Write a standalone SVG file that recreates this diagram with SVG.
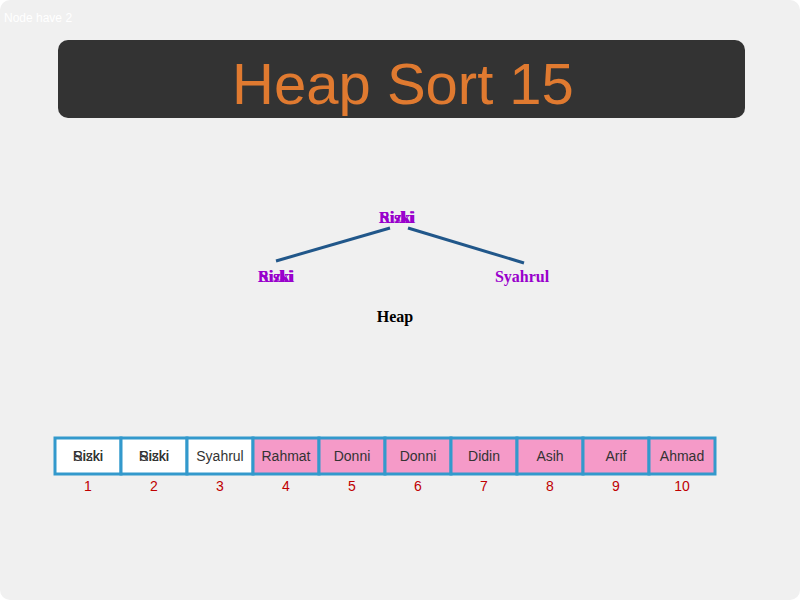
<svg xmlns="http://www.w3.org/2000/svg" width="800" height="600" viewBox="0 0 800 600">
<style>
.c{stroke:#3399cc;stroke-width:3}
.w{fill:#ffffff}.p{fill:#f59ac8}
.t{font-family:"Liberation Sans",Arial,sans-serif;font-size:14px;fill:#333;text-anchor:middle}
.i{font-family:"Liberation Sans",Arial,sans-serif;font-size:14px;fill:#c00000;text-anchor:middle}
.n{font-family:"Liberation Serif",serif;font-size:16px;font-weight:bold;fill:#9900cc;text-anchor:middle}
.e{stroke:#21578a;stroke-width:3}
</style>
<rect width="800" height="600" rx="10" fill="#f0f0f0"/>
<text x="4" y="22" font-family="Liberation Sans,sans-serif" font-size="12" fill="#ffffff">Node have 2</text>
<rect x="58" y="40" width="687" height="78" rx="10" fill="#333333"/>
<text x="403" y="104" font-family="Liberation Sans,sans-serif" font-size="58" fill="#e07a30" text-anchor="middle">Heap Sort 15</text>
<g id="connectors">
<line class="e" x1="276" y1="261" x2="390" y2="228"/>
<line class="e" x1="408" y1="228" x2="524" y2="263"/>
</g>
<g id="root"><text class="n" x="397" y="223">Rizki</text><text class="n" x="397" y="223">Siski</text></g>
<g id="left"><text class="n" x="276" y="282">Rizki</text><text class="n" x="276" y="282">Siski</text></g>
<g id="right"><text class="n" x="522" y="282">Syahrul</text></g>
<text x="395" y="322" font-family="Liberation Serif,serif" font-size="16" font-weight="bold" fill="#000" text-anchor="middle">Heap</text>
<g id="array">
<rect class="c w" x="55" y="438" width="66" height="36"/>
<rect class="c w" x="121" y="438" width="66" height="36"/>
<rect class="c w" x="187" y="438" width="66" height="36"/>
<rect class="c p" x="253" y="438" width="66" height="36"/>
<rect class="c p" x="319" y="438" width="66" height="36"/>
<rect class="c p" x="385" y="438" width="66" height="36"/>
<rect class="c p" x="451" y="438" width="66" height="36"/>
<rect class="c p" x="517" y="438" width="66" height="36"/>
<rect class="c p" x="583" y="438" width="66" height="36"/>
<rect class="c p" x="649" y="438" width="66" height="36"/>
<text class="t" x="88" y="461">Rizki</text><text class="t" x="88" y="461">Siski</text>
<text class="t" x="154" y="461">Rizki</text><text class="t" x="154" y="461">Siski</text>
<text class="t" x="220" y="461">Syahrul</text>
<text class="t" x="286" y="461">Rahmat</text>
<text class="t" x="352" y="461">Donni</text>
<text class="t" x="418" y="461">Donni</text>
<text class="t" x="484" y="461">Didin</text>
<text class="t" x="550" y="461">Asih</text>
<text class="t" x="616" y="461">Arif</text>
<text class="t" x="682" y="461">Ahmad</text>
<text class="i" x="88" y="491">1</text><text class="i" x="154" y="491">2</text><text class="i" x="220" y="491">3</text><text class="i" x="286" y="491">4</text><text class="i" x="352" y="491">5</text><text class="i" x="418" y="491">6</text><text class="i" x="484" y="491">7</text><text class="i" x="550" y="491">8</text><text class="i" x="616" y="491">9</text><text class="i" x="682" y="491">10</text>
</g>
</svg>
